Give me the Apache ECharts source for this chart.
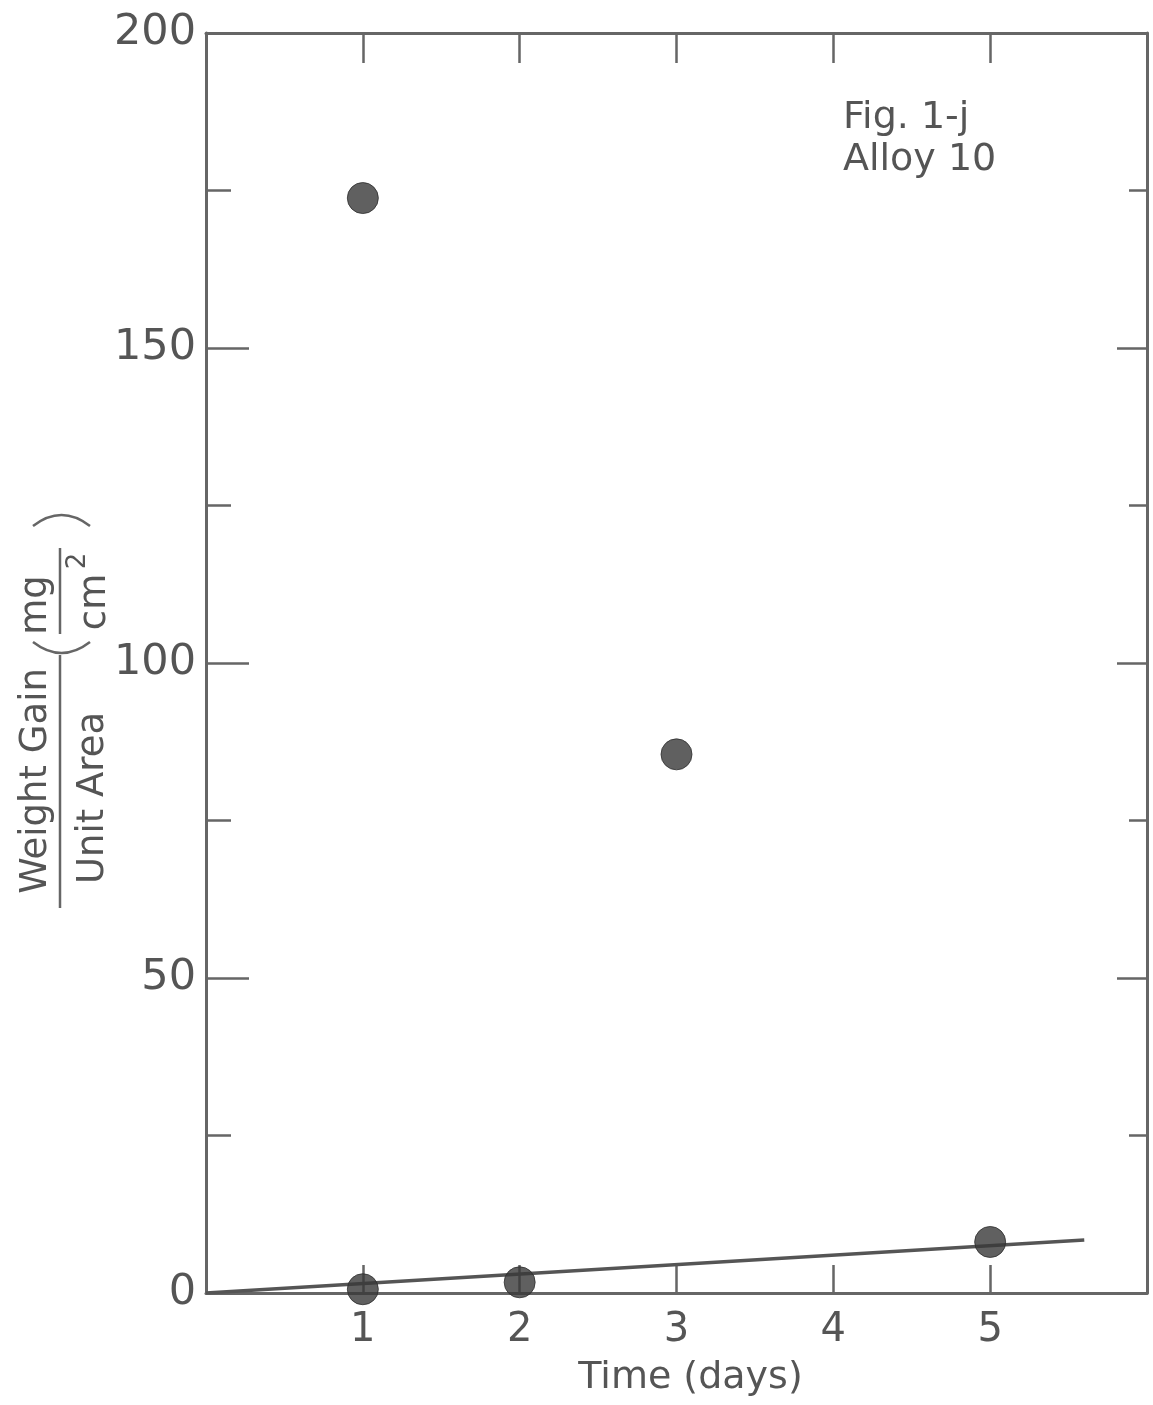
<!DOCTYPE html>
<html>
<head>
<meta charset="utf-8">
<script src="https://cdn.jsdelivr.net/npm/echarts@6/dist/echarts.min.js"></script>
<style>
html,body{margin:0;padding:0;background:#fff;}
#chart{width:1153px;height:1405px;}
</style>
</head>
<body>
<div id="chart"></div>
<script>
// ---- data ----
const pointDays = [1, 3, 1, 2, 5];
const pointGain = [173.8, 85.5, 0.6, 1.7, 8.1];
const fitDays = [0, 5.6];
const fitGain = [0, 8.4];
const xTickLabels = ['1', '2', '3', '4', '5'];
const yTickLabels = ['0', '50', '100', '150', '200'];
const noteLines = ['Fig. 1-j', 'Alloy 10'];
const xTitle = 'Time (days)';

const TXT = '#555';
const LINE = '#666';
const FONT = 'DejaVu Sans';

const chart = echarts.init(document.getElementById('chart'));

const scatterData = pointDays.map((d, i) => [d, pointGain[i]]);
const fitData = fitDays.map((d, i) => [d, fitGain[i]]);

const axisLineStyle = { show: true, onZero: false, lineStyle: { color: LINE, width: 3 } };

chart.setOption({
  backgroundColor: '#fff',
  animation: false,
  grid: { left: 206, right: 6, top: 33, bottom: 112 },
  xAxis: [
    {
      type: 'value', position: 'bottom', min: 0, max: 6, interval: 1,
      axisLine: axisLineStyle,
      axisTick: { show: true, inside: true, length: 28, lineStyle: { color: LINE, width: 2.5 } },
      splitLine: { show: false },
      axisLabel: {
        show: true, margin: 18, color: TXT, fontFamily: FONT, fontSize: 40,
        formatter: v => (v >= 1 && v <= 5) ? xTickLabels[v - 1] : ''
      },
      name: xTitle, nameLocation: 'middle', nameGap: 66,
      nameTextStyle: { color: TXT, fontFamily: FONT, fontSize: 38, padding: [0, 0, 0, 28] }
    },
    {
      type: 'value', position: 'top', min: 0, max: 6, interval: 1,
      axisLine: axisLineStyle,
      axisTick: { show: true, inside: true, length: 30, lineStyle: { color: LINE, width: 2.5 } },
      splitLine: { show: false },
      axisLabel: { show: false }
    }
  ],
  yAxis: [
    {
      type: 'value', position: 'left', min: 0, max: 200, interval: 50,
      axisLine: axisLineStyle,
      axisTick: { show: true, inside: true, length: 43, lineStyle: { color: LINE, width: 2.5 } },
      minorTick: { show: true, splitNumber: 2, length: 25, lineStyle: { color: LINE, width: 2.5 } },
      splitLine: { show: false },
      minorSplitLine: { show: false },
      axisLabel: {
        show: true, margin: 10, color: TXT, fontFamily: FONT, fontSize: 43,
        formatter: v => yTickLabels[v / 50]
      }
    },
    {
      type: 'value', position: 'right', min: 0, max: 200, interval: 50,
      axisLine: axisLineStyle,
      axisTick: { show: true, inside: true, length: 30, lineStyle: { color: LINE, width: 2.5 } },
      minorTick: { show: true, splitNumber: 2, length: 18, lineStyle: { color: LINE, width: 2.5 } },
      splitLine: { show: false },
      minorSplitLine: { show: false },
      axisLabel: { show: false }
    }
  ],
  series: [
    {
      type: 'line', data: fitData, xAxisIndex: 0, yAxisIndex: 0,
      showSymbol: false, symbol: 'none',
      lineStyle: { color: '#555', width: 3.5 }, z: 2
    },
    {
      type: 'scatter', data: scatterData, xAxisIndex: 0, yAxisIndex: 0,
      symbol: 'circle', symbolSize: 31,
      itemStyle: { color: '#383838', borderColor: '#2e2e2e', borderWidth: 1 }, z: 3
    }
  ],
  graphic: [
    { type: 'text', left: 843, top: 99, style: { text: noteLines[0], fill: TXT, font: '38px "' + FONT + '"' } },
    { type: 'text', left: 843, top: 141, style: { text: noteLines[1], fill: TXT, font: '38px "' + FONT + '"' } },
    // y axis title (rotated)
    { type: 'text', x: 36, y: 781, rotation: Math.PI / 2,
      style: { text: 'Weight Gain', fill: TXT, font: '37px "' + FONT + '"', align: 'center', verticalAlign: 'middle' } },
    { type: 'line', shape: { x1: 60, y1: 908, x2: 60, y2: 655 }, style: { stroke: LINE, lineWidth: 2.5 } },
    { type: 'text', x: 93, y: 798, rotation: Math.PI / 2,
      style: { text: 'Unit Area', fill: TXT, font: '37px "' + FONT + '"', align: 'center', verticalAlign: 'middle' } },
    { type: 'text', x: 36, y: 605, rotation: Math.PI / 2,
      style: { text: 'mg', fill: TXT, font: '37px "' + FONT + '"', align: 'center', verticalAlign: 'middle' } },
    { type: 'line', shape: { x1: 60, y1: 634, x2: 60, y2: 548 }, style: { stroke: LINE, lineWidth: 2.5 } },
    { type: 'text', x: 95, y: 602, rotation: Math.PI / 2,
      style: { text: 'cm', fill: TXT, font: '37px "' + FONT + '"', align: 'center', verticalAlign: 'middle' } },
    { type: 'text', x: 78, y: 561, rotation: Math.PI / 2,
      style: { text: '2', fill: TXT, font: '26px "' + FONT + '"', align: 'center', verticalAlign: 'middle' } },
    { type: 'bezierCurve', shape: { x1: 33, y1: 642, x2: 90, y2: 642, cpx1: 61.5, cpy1: 664 },
      style: { stroke: LINE, lineWidth: 2.5, fill: 'none' } },
    { type: 'bezierCurve', shape: { x1: 33, y1: 526, x2: 90, y2: 526, cpx1: 61.5, cpy1: 504 },
      style: { stroke: LINE, lineWidth: 2.5, fill: 'none' } }
  ]
});
</script>
</body>
</html>
